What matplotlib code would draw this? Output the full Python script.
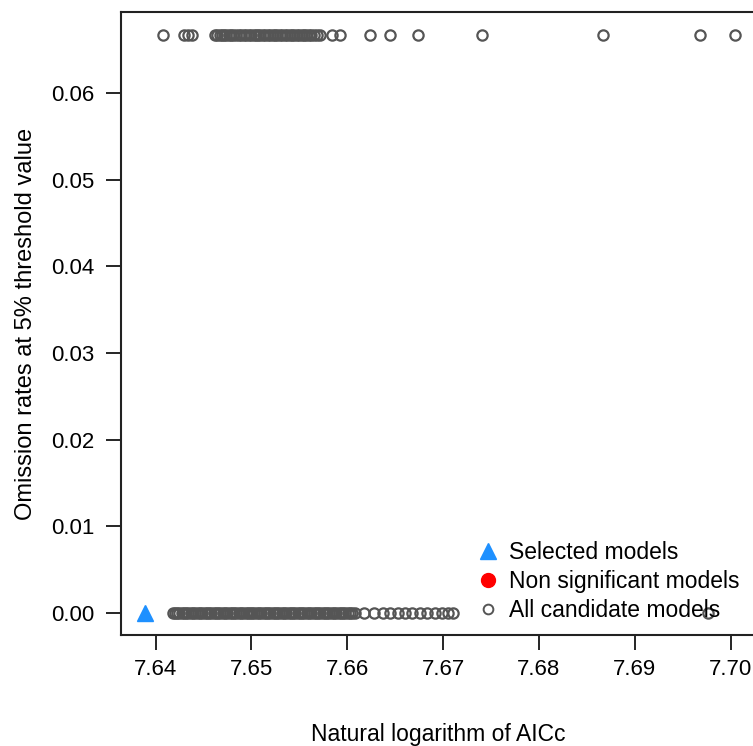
import matplotlib
matplotlib.use("Agg")
import matplotlib.pyplot as plt
from matplotlib.lines import Line2D

plt.rcParams["font.family"] = ["Liberation Sans", "DejaVu Sans"]

# models with omission rate 1/15
top_aicc = [
    7.64076, 7.64295, 7.64337, 7.64379,
    7.64618, 7.64641, 7.64667, 7.64695, 7.64712, 7.64738, 7.64768, 7.64790,
    7.64812, 7.64841, 7.64874, 7.64893, 7.64918, 7.64943, 7.64970, 7.64995,
    7.65022, 7.65047, 7.65070, 7.65093, 7.65120, 7.65146, 7.65170, 7.65197,
    7.65224, 7.65250, 7.65271, 7.65298, 7.65321, 7.65349, 7.65374, 7.65400,
    7.65421, 7.65448, 7.65472, 7.65499, 7.65524, 7.65548, 7.65573, 7.65601,
    7.65625, 7.65652, 7.65683,
    7.65715, 7.65840, 7.65924, 7.66237, 7.66446, 7.66738, 7.67406,
    7.68669, 7.69682, 7.70047,
]
top_omission = [1 / 15] * len(top_aicc)

# models with zero omission
bottom_aicc = [
    7.64180, 7.64205, 7.64222, 7.64248, 7.64270, 7.64297, 7.64318, 7.64341,
    7.64368, 7.64390, 7.64412, 7.64441, 7.64460, 7.64487, 7.64512, 7.64533,
    7.64558, 7.64580, 7.64604, 7.64628, 7.64655, 7.64676, 7.64698, 7.64727,
    7.64749, 7.64771, 7.64797, 7.64820, 7.64842, 7.64866, 7.64890, 7.64914,
    7.64939, 7.64960, 7.64985, 7.65010, 7.65031, 7.65055, 7.65081, 7.65103,
    7.65127, 7.65152, 7.65174, 7.65198, 7.65221, 7.65246, 7.65270, 7.65290,
    7.65318, 7.65340, 7.65362, 7.65389, 7.65412, 7.65434, 7.65459, 7.65482,
    7.65507, 7.65530, 7.65553, 7.65578, 7.65600, 7.65624, 7.65649, 7.65671,
    7.65695, 7.65720, 7.65742, 7.65766, 7.65790, 7.65814, 7.65838, 7.65862,
    7.65884, 7.65909, 7.65931, 7.65956, 7.65980, 7.66003, 7.66027, 7.66052,
    7.66079,
    7.66174, 7.66278, 7.66372, 7.66445, 7.66529, 7.66602, 7.66675, 7.66758,
    7.66831, 7.66915, 7.66988, 7.67051, 7.67104,
    7.69768,
]
bottom_omission = [0.0] * len(bottom_aicc)

selected_aicc = [7.63890]
selected_omission = [0.0]

x_ticks = [7.64, 7.65, 7.66, 7.67, 7.68, 7.69, 7.70]
y_ticks = [0.00, 0.01, 0.02, 0.03, 0.04, 0.05, 0.06]

fig = plt.figure(figsize=(7.53, 7.46), dpi=100)
ax = fig.add_axes([0.1603, 0.1488, 0.8437, 0.8347])

grey = "#555555"
circle_style = dict(ls="none", marker="o", mfc="none", mec=grey, ms=7.4, mew=1.6, clip_on=False)
ax.plot(top_aicc, top_omission, **circle_style)
ax.plot(bottom_aicc, bottom_omission, **circle_style)
ax.plot(selected_aicc, selected_omission, "^", ls="none", color="#1E90FF", ms=12, clip_on=False)

ax.set_xlim(7.63635, 7.70266)
ax.set_ylim(-0.002538, 0.06929)
ax.set_xticks(x_ticks)
ax.set_xticklabels([f"{v:.2f}" for v in x_ticks])
ax.set_yticks(y_ticks)
ax.set_yticklabels([f"{v:.2f}" for v in y_ticks])
ax.tick_params(axis="both", direction="out", length=11, width=1.2, labelsize=16)
ax.tick_params(axis="y", pad=8)
ax.tick_params(axis="x", pad=6)
for sp in ax.spines.values():
    sp.set_linewidth(1.5)
    sp.set_color("#222222")

ax.set_xlabel("Natural logarithm of AICc", fontsize=16.5, labelpad=31)
ax.set_ylabel("Omission rates at 5% threshold value", fontsize=17, labelpad=10)

handles = [
    Line2D([], [], marker="^", ls="none", color="#1E90FF", ms=12),
    Line2D([], [], marker="o", ls="none", color="#FF0000", ms=10),
    Line2D([], [], marker="o", ls="none", mfc="none", mec=grey, ms=7, mew=1.4),
]
labels = ["Selected models", "Non significant models", "All candidate models"]
ax.legend(handles, labels, loc="lower right", bbox_to_anchor=(0.994, 0.0), frameon=False,
          fontsize=16.5, handlelength=1.0, handletextpad=0.4, labelspacing=0.28,
          borderaxespad=0.15)

fig.savefig("out.png", dpi=100)
